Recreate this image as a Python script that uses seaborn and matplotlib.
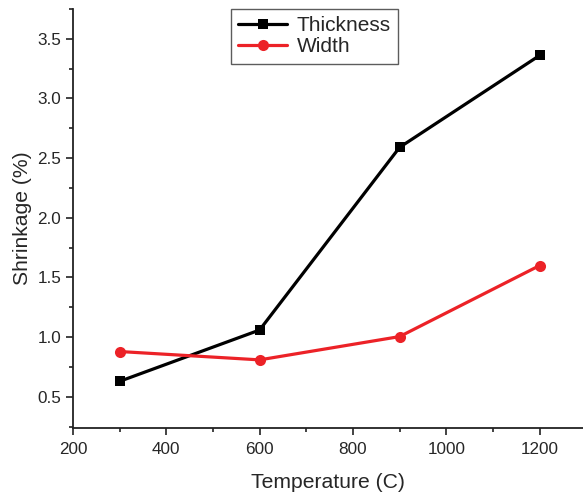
import pandas as pd
import matplotlib.pyplot as plt
import seaborn as sns
from matplotlib.ticker import MultipleLocator

temperature = [300, 600, 900, 1200]
thickness = [0.63, 1.06, 2.59, 3.36]
width = [0.88, 0.81, 1.005, 1.60]

df = pd.DataFrame({'Temperature': temperature, 'Thickness': thickness, 'Width': width})

sns.set_style('ticks')
plt.rcParams['font.family'] = ['Liberation Sans', 'DejaVu Sans']

fig = plt.figure(figsize=(5.83, 4.93), dpi=100)
ax = fig.add_axes([0.125, 0.132, 0.875, 0.85])

sns.lineplot(x='Temperature', y='Thickness', data=df, color='black', marker='s',
             markersize=7, markeredgewidth=0, linewidth=2.3, label='Thickness', ax=ax)
sns.lineplot(x='Temperature', y='Width', data=df, color='#ec2227', marker='o',
             markersize=8, markeredgewidth=0, linewidth=2.3, label='Width', ax=ax)

ax.set_xlim(200, 1293)
ax.set_ylim(0.24, 3.75)
ax.xaxis.set_major_locator(MultipleLocator(200))
ax.xaxis.set_minor_locator(MultipleLocator(100))
ax.yaxis.set_major_locator(MultipleLocator(0.5))
ax.yaxis.set_minor_locator(MultipleLocator(0.25))
ax.tick_params(which='major', direction='out', length=5, width=1.2, labelsize=12.3, color='#222222')
ax.tick_params(which='minor', direction='out', length=3, width=1.2, color='#222222')
ax.tick_params(axis='x', pad=5)

for s in ['top', 'right']:
    ax.spines[s].set_visible(False)
for s in ['left', 'bottom']:
    ax.spines[s].set_linewidth(1.3)
    ax.spines[s].set_color('#222222')

ax.set_xlabel('Temperature (C)', fontsize=15.2, labelpad=12)
ax.set_ylabel('Shrinkage (%)', fontsize=15.2)

leg = ax.legend(loc='upper left', bbox_to_anchor=(0.31, 1.0), fontsize=15,
                frameon=True, fancybox=False, handlelength=2.35, borderpad=0.35,
                labelspacing=0.1, handletextpad=0.45, borderaxespad=0)
leg.get_frame().set_edgecolor('#333333')
leg.get_frame().set_linewidth(1)

plt.savefig('out.png', dpi=100)
